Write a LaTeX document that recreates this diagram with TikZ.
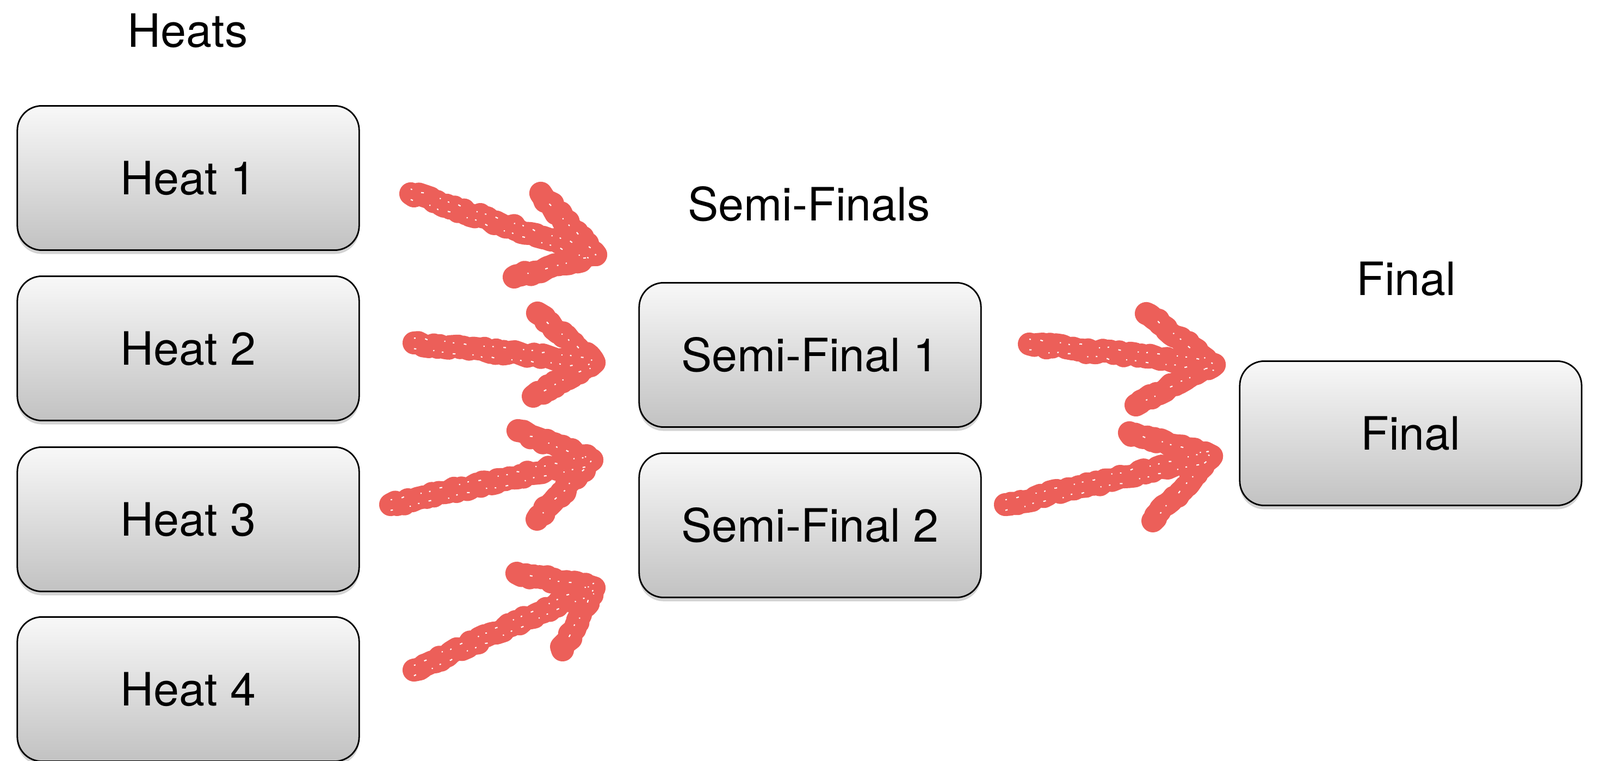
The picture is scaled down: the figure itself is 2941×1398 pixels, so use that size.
\documentclass[tikz,border=0pt]{standalone}
\usepackage{fontspec}
\setmainfont{TeX Gyre Heros}
\usetikzlibrary{shadows,decorations.pathmorphing,calc}
\definecolor{boxtop}{HTML}{F8F8F8}
\definecolor{boxbot}{HTML}{C2C2C2}
\definecolor{chalk}{HTML}{EC5F59}
\tikzset{
  racebox/.style={draw=black, line width=0.8pt, rounded corners=0.45cm,
    top color=boxtop, bottom color=boxbot, minimum width=6.28cm, minimum height=2.65cm,
    font=\fontsize{24}{28}\selectfont,
    drop shadow={opacity=0.35, shadow xshift=0pt, shadow yshift=-0.07cm}},
  title/.style={font=\fontsize{24}{28}\selectfont},
  chalkline/.style={draw=chalk, line width=12pt, line cap=round, line join=round,
    decorate, decoration={random steps, segment length=2pt, amplitude=1.2pt}},
  chalkspeck/.style={draw=white, line width=0.6pt,
    dash pattern=on 0.8pt off 5pt on 1.4pt off 9pt on 0.6pt off 4pt,
    decorate, decoration={random steps, segment length=3pt, amplitude=0.6pt}}
}
\begin{document}
\begin{tikzpicture}[x=0.01cm,y=-0.01cm]
\useasboundingbox (0,0) rectangle (2941,1398);
% titles
\node[title] (theats) at (345,56) {Heats};
\node[title] (tsemi) at (1487,375) {Semi-Finals};
\node[title] (tfinal) at (2585,512) {Final};
% boxes
\node[racebox] (h1) at (346,327) {Heat 1};
\node[racebox] (h2) at (346,640) {Heat 2};
\node[racebox] (h3) at (346,954) {Heat 3};
\node[racebox] (h4) at (346,1266) {Heat 4};
\node[racebox] (sf1) at (1489,652) {Semi-Final 1};
\node[racebox] (sf2) at (1489,965) {Semi-Final 2};
\node[racebox] (fin) at (2593,796) {Final};
% arrow coordinates
\coordinate (a1t) at (755,356); \coordinate (a1p) at (1095,468);
\coordinate (a1u) at (994,355); \coordinate (a1l) at (945,509);
\coordinate (a2t) at (761,630); \coordinate (a2p) at (1092,666);
\coordinate (a2u) at (988,575); \coordinate (a2l) at (980,728);
\coordinate (a3t) at (718,927); \coordinate (a3p) at (1088,845);
\coordinate (a3u) at (952,791); \coordinate (a3l) at (987,954);
\coordinate (a4t) at (761,1231); \coordinate (a4p) at (1092,1080);
\coordinate (a4u) at (950,1053); \coordinate (a4l) at (1034,1194);
\coordinate (a5t) at (1892,632); \coordinate (a5p) at (2232,670);
\coordinate (a5u) at (2107,576); \coordinate (a5l) at (2088,744);
\coordinate (a6t) at (1848,927); \coordinate (a6p) at (2227,838);
\coordinate (a6u) at (2076,795); \coordinate (a6l) at (2119,957);
\foreach \i in {1,...,6}{
  \draw[chalkline] (a\i t) -- (a\i p);
  \draw[chalkline] (a\i u) -- (a\i p) -- (a\i l);
  \draw[chalkspeck] ([yshift=2.5pt]a\i t) -- ([yshift=2.5pt]a\i p);
  \draw[chalkspeck, dash phase=6pt] ([yshift=-3pt]a\i t) -- ([yshift=-3pt]a\i p);
  \draw[chalkspeck, dash phase=3pt] ($(a\i u)!0.1!(a\i p)$) -- (a\i p) -- ($(a\i l)!0.1!(a\i p)$);
}
\end{tikzpicture}
\end{document}
